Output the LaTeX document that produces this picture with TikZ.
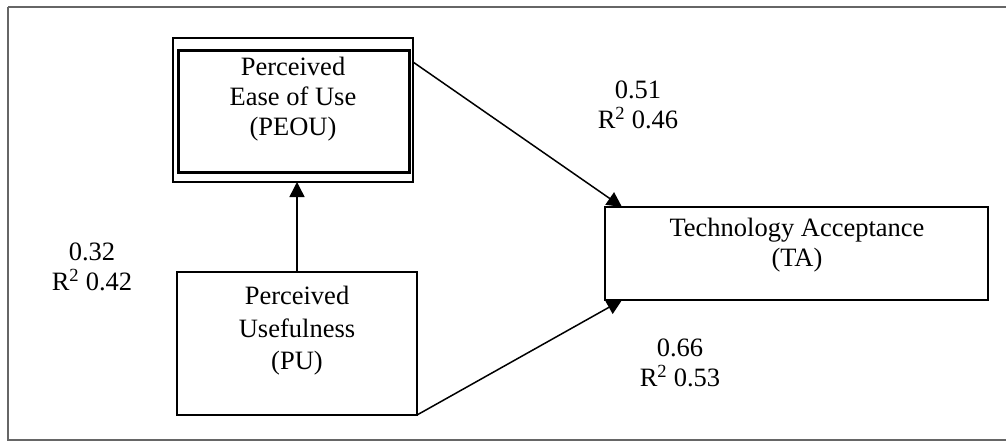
\documentclass[tikz,border=0pt]{standalone}
\usepackage{fontspec}
\setmainfont{Liberation Serif}
\usetikzlibrary{arrows.meta,calc}
\tikzset{
  box/.style={draw=black, rectangle, inner sep=0pt, outer sep=0pt},
  txt/.style={align=center, inner sep=0pt, font=\fontsize{26.5}{30}\selectfont},
  conn/.style={draw=black, line width=1.5pt, -{Triangle[length=15pt,width=15pt]}},
}
\begin{document}
\begin{tikzpicture}[x=1pt,y=-1pt]
\useasboundingbox (0,0) rectangle (1006,442);
% frame
\draw[draw=black!60, line width=1.2pt] (8,7) -- (1012,7) (8,7) -- (8,440) -- (1012,440);
% PEOU
\node[box, line width=1.5pt, minimum width=240pt, minimum height=144pt] (peouo) at (293,110) {};
\node[box, line width=3pt, minimum width=231pt, minimum height=122pt] (peoui) at (293.5,111) {};
\node[txt] (peout) at (293,99) {Perceived\\Ease of Use\\(PEOU)};
% PU
\node[box, line width=2pt, minimum width=240pt, minimum height=143pt] (pu) at (297,343.5) {};
\node[txt, font=\fontsize{26.5}{32.5}\selectfont] (put) at (297,331) {Perceived\\Usefulness\\(PU)};
% TA
\node[box, line width=2pt, minimum width=383pt, minimum height=93pt] (ta) at (796.5,253.5) {};
\node[txt] (tat) at (797,245) {Technology Acceptance\\(TA)};
% labels
\node[txt] (l1) at (638,105) {0.51\\R\textsuperscript{2} 0.46};
\node[txt] (l2) at (92,267) {0.32\\R\textsuperscript{2} 0.42};
\node[txt] (l3) at (680,363) {0.66\\R\textsuperscript{2} 0.53};
% connectors
\coordinate (s1) at ($(peouo.north east)+(0,24)$);
\coordinate (e1) at ($(ta.north west)+(17,0)$);
\coordinate (e2) at ($(ta.south west)+(17,0)$);
\draw[conn] (pu.north) -- (pu.north |- peouo.south);
\draw[conn] (s1) -- (e1);
\draw[conn] (pu.south east) -- (e2);
\end{tikzpicture}
\end{document}
